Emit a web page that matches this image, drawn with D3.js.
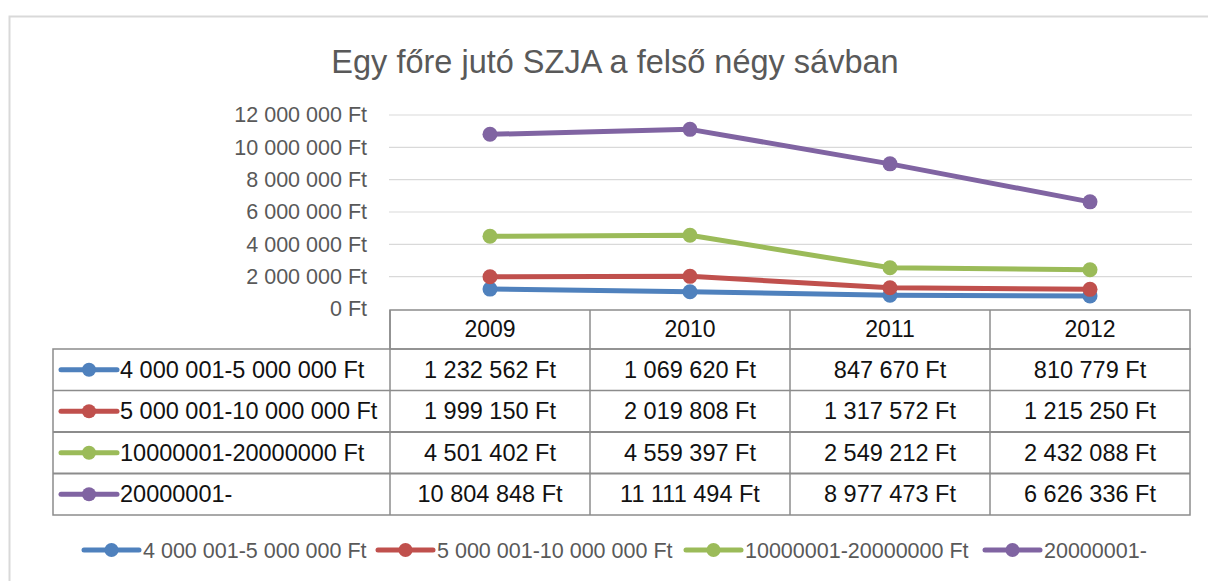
<!DOCTYPE html>
<html>
<head>
<meta charset="utf-8">
<script src="https://cdn.jsdelivr.net/npm/d3@7"></script>
<style>
  body { margin: 0; background: #fff; }
  text { font-family: "Liberation Sans", Arial, sans-serif; }
</style>
</head>
<body>
<div id="chart"></div>
<script>
// --- data ---
const years = ["2009", "2010", "2011", "2012"];
const seriesNames = ["4 000 001-5 000 000 Ft", "5 000 001-10 000 000 Ft", "10000001-20000000 Ft", "20000001-"];
const band1 = [1232562, 1069620, 847670, 810779];
const band2 = [1999150, 2019808, 1317572, 1215250];
const band3 = [4501402, 4559397, 2549212, 2432088];
const band4 = [10804848, 11111494, 8977473, 6626336];
const yTicks = [0, 2000000, 4000000, 6000000, 8000000, 10000000, 12000000];
const colors = ["#4f81bd", "#c0504d", "#9bbb59", "#8064a2"];
const title = "Egy főre jutó SZJA a felső négy sávban";

const seriesValues = [band1, band2, band3, band4];
const series = seriesNames.map((name, i) => ({ name, color: colors[i], values: seriesValues[i] }));

// hungarian number format: 1 232 562 Ft
const huLocale = d3.formatLocale({ decimal: ",", thousands: "\u00a0", grouping: [3], currency: ["", "\u00a0Ft"] });
const fmt = huLocale.format("$,d");

const W = 1208, H = 581;
const svg = d3.select("#chart").append("svg")
  .attr("width", W).attr("height", H);

// chart area border
svg.append("rect")
  .attr("x", 9.5).attr("y", 16.5)
  .attr("width", W + 20).attr("height", H + 20)
  .attr("fill", "#fff")
  .attr("stroke", "#d9d9d9")
  .attr("stroke-width", 2);

// title
svg.append("text")
  .attr("x", 615).attr("y", 73)
  .attr("text-anchor", "middle")
  .style("font-size", "32.5px")
  .style("fill", "#595959")
  .text(title);

// scales
const x = d3.scaleBand().domain(years).range([390, 1190]).padding(0);
const y = d3.scaleLinear().domain([0, 12000000]).range([309, 115]);
const row = d3.scaleBand().domain(seriesNames).range([349, 515]).padding(0);

// gridlines
svg.append("g")
  .selectAll("line")
  .data(yTicks.filter(d => d > 0))
  .enter().append("line")
  .attr("x1", 389).attr("x2", 1192)
  .attr("y1", d => y(d)).attr("y2", d => y(d))
  .attr("stroke", "#d9d9d9")
  .attr("stroke-width", 1.2);

// y axis labels
const yAxis = svg.append("g")
  .attr("transform", "translate(390,0)")
  .call(d3.axisLeft(y).tickValues(yTicks).tickFormat(fmt).tickSize(0).tickPadding(23));
yAxis.select(".domain").remove();
yAxis.selectAll("text")
  .style("font-family", "'Liberation Sans', Arial, sans-serif")
  .style("font-size", "21.5px")
  .style("fill", "#595959");

// --- data table ---
const tbl = svg.append("g");
const gridColor = "#8c8c8c";

// header row box
tbl.append("rect")
  .attr("x", 390).attr("y", 310)
  .attr("width", 800).attr("height", 39)
  .attr("fill", "none").attr("stroke", gridColor).attr("stroke-width", 1.5);

// body box
tbl.append("rect")
  .attr("x", 53).attr("y", 349)
  .attr("width", 1137).attr("height", 166)
  .attr("fill", "none").attr("stroke", gridColor).attr("stroke-width", 1.5);

// vertical column lines
tbl.selectAll(".vline")
  .data(years)
  .enter().append("line")
  .attr("class", "vline")
  .attr("x1", d => x(d)).attr("x2", d => x(d))
  .attr("y1", 310).attr("y2", 515)
  .attr("stroke", gridColor).attr("stroke-width", 1.5);

// horizontal row lines
tbl.selectAll(".hline")
  .data(seriesNames.slice(1))
  .enter().append("line")
  .attr("class", "hline")
  .attr("x1", 53).attr("x2", 1190)
  .attr("y1", d => row(d)).attr("y2", d => row(d))
  .attr("stroke", gridColor)
  .attr("stroke-width", (d, i) => i === 0 ? 1.5 : 2.2);

// year headers
tbl.selectAll(".year")
  .data(years)
  .enter().append("text")
  .attr("class", "year")
  .attr("x", d => x(d) + x.bandwidth() / 2)
  .attr("y", 337)
  .attr("text-anchor", "middle")
  .style("font-size", "23px")
  .style("fill", "#111")
  .text(d => d);

// rows
const rows = tbl.selectAll(".row")
  .data(series)
  .enter().append("g")
  .attr("class", "row")
  .attr("transform", d => `translate(0,${row(d.name) + row.bandwidth() / 2})`);

rows.append("line")
  .attr("x1", 61).attr("x2", 117)
  .attr("stroke", d => d.color).attr("stroke-width", 5)
  .attr("stroke-linecap", "round");
rows.append("circle")
  .attr("cx", 89).attr("r", 7)
  .attr("fill", d => d.color);
rows.append("text")
  .attr("x", 120).attr("y", 8)
  .style("font-size", "23.5px")
  .style("fill", "#111")
  .text(d => d.name);

rows.selectAll(".val")
  .data(d => d.values.map((v, i) => ({ v, year: years[i] })))
  .enter().append("text")
  .attr("class", "val")
  .attr("x", d => x(d.year) + x.bandwidth() / 2)
  .attr("y", 8)
  .attr("text-anchor", "middle")
  .style("font-size", "23.5px")
  .style("fill", "#111")
  .text(d => fmt(d.v));

// --- lines ---
const line = d3.line()
  .x((d, i) => x(years[i]) + x.bandwidth() / 2)
  .y(d => y(d));

const lines = svg.append("g").selectAll(".series")
  .data(series)
  .enter().append("g")
  .attr("class", "series");

lines.append("path")
  .attr("d", d => line(d.values))
  .attr("fill", "none")
  .attr("stroke", d => d.color)
  .attr("stroke-width", 5)
  .attr("stroke-linejoin", "round");

lines.selectAll("circle")
  .data(d => d.values.map((v, i) => ({ v, i, color: d.color })))
  .enter().append("circle")
  .attr("cx", d => x(years[d.i]) + x.bandwidth() / 2)
  .attr("cy", d => y(d.v))
  .attr("r", 7.5)
  .attr("fill", d => d.color);

// --- legend ---
const legendX = [84, 378, 686, 985];
const legend = svg.append("g").selectAll(".legend")
  .data(series)
  .enter().append("g")
  .attr("class", "legend")
  .attr("transform", (d, i) => `translate(${legendX[i]},550)`);

legend.append("line")
  .attr("x1", 0).attr("x2", 55)
  .attr("stroke", d => d.color).attr("stroke-width", 5)
  .attr("stroke-linecap", "round");
legend.append("circle")
  .attr("cx", 27.5).attr("r", 7)
  .attr("fill", d => d.color);
legend.append("text")
  .attr("x", 59).attr("y", 8)
  .style("font-size", "21.5px")
  .style("fill", "#595959")
  .text(d => d.name);
</script>
</body>
</html>
